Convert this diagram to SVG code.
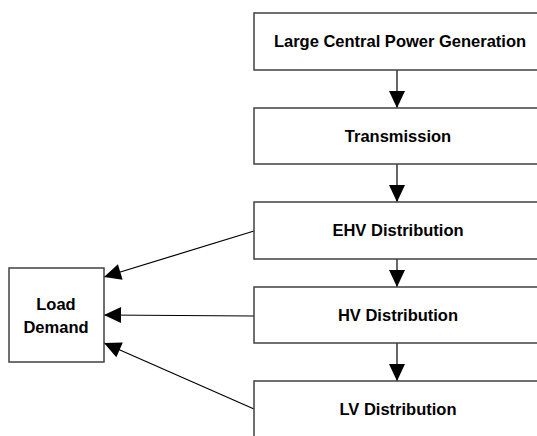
<svg xmlns="http://www.w3.org/2000/svg" width="537" height="436" viewBox="0 0 537 436">
<style>
.box{fill:#fff;stroke:#404040;stroke-width:1.5}
.lbl{font-family:"Liberation Sans",Arial,sans-serif;font-weight:bold;font-size:16.5px;fill:#000;text-anchor:middle}
.con{stroke:#000;stroke-width:1.2;fill:none;marker-end:url(#ah)}
</style>
<defs>
<marker id="ah" markerUnits="userSpaceOnUse" markerWidth="18" markerHeight="16" refX="17" refY="8" orient="auto" overflow="visible">
<path d="M0,0 L17,8 L0,16 z" fill="#000"/>
</marker>
</defs>
<rect width="537" height="436" fill="#fff"/>
<g id="connectors">
<line class="con" x1="397" y1="70" x2="397" y2="108"/>
<line class="con" x1="397" y1="164" x2="397" y2="202"/>
<line class="con" x1="397" y1="259" x2="397" y2="287"/>
<line class="con" x1="397" y1="343" x2="397" y2="381"/>
<line class="con" x1="254" y1="231" x2="104" y2="277"/>
<line class="con" x1="254" y1="316" x2="104" y2="315"/>
<line class="con" x1="254" y1="409" x2="104" y2="343"/>
</g>
<g id="gen"><rect class="box" x="254" y="13" width="288" height="57"/><text class="lbl" x="400" y="47">Large Central Power Generation</text></g>
<g id="trans"><rect class="box" x="254" y="108" width="288" height="56"/><text class="lbl" x="398" y="142">Transmission</text></g>
<g id="ehv"><rect class="box" x="254" y="202" width="288" height="57"/><text class="lbl" x="398" y="236">EHV Distribution</text></g>
<g id="hv"><rect class="box" x="254" y="287" width="288" height="56"/><text class="lbl" x="398" y="321">HV Distribution</text></g>
<g id="lv"><rect class="box" x="254" y="381" width="288" height="60"/><text class="lbl" x="398" y="415">LV Distribution</text></g>
<g id="load"><rect class="box" x="9" y="268" width="95" height="94"/><text class="lbl" x="56" y="310">Load</text><text class="lbl" x="56" y="333">Demand</text></g>
</svg>
